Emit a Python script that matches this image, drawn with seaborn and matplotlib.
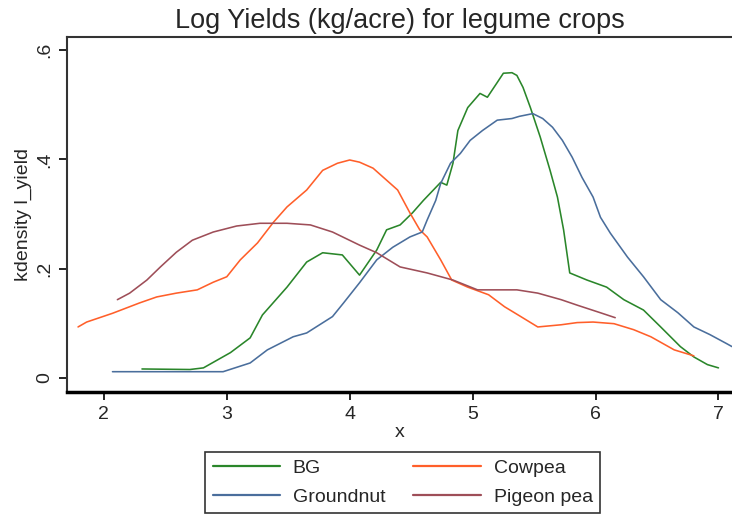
import matplotlib
matplotlib.use("Agg")
import matplotlib.pyplot as plt
import seaborn as sns
import pandas as pd
from matplotlib import font_manager
from matplotlib.lines import Line2D

# ---- data ----
bg_x = [2.31, 2.70, 2.81, 3.03, 3.19, 3.29, 3.49, 3.65, 3.78, 3.94, 4.08, 4.22, 4.30, 4.41, 4.51, 4.60,
        4.74, 4.79, 4.84, 4.88, 4.96, 5.06, 5.12, 5.20, 5.25, 5.32, 5.36, 5.41, 5.47, 5.55, 5.63, 5.69,
        5.74, 5.79, 5.93, 6.09, 6.23, 6.39, 6.53, 6.69, 6.80, 6.91, 7.00]
bg_y = [0.016, 0.015, 0.018, 0.046, 0.073, 0.115, 0.166, 0.212, 0.229, 0.225, 0.188, 0.234, 0.271, 0.280,
        0.302, 0.325, 0.358, 0.353, 0.393, 0.453, 0.495, 0.521, 0.514, 0.541, 0.558, 0.559, 0.554, 0.532,
        0.495, 0.441, 0.380, 0.331, 0.271, 0.192, 0.179, 0.166, 0.143, 0.124, 0.093, 0.057, 0.038, 0.024, 0.018]

gn_x = [2.07, 2.97, 3.19, 3.33, 3.54, 3.65, 3.86, 3.95, 4.08, 4.22, 4.35, 4.49, 4.59, 4.63, 4.70,
        4.74, 4.82, 4.90, 4.98, 5.08, 5.20, 5.32, 5.38, 5.49, 5.57, 5.65, 5.73, 5.81, 5.89, 5.98,
        6.04, 6.12, 6.26, 6.39, 6.53, 6.67, 6.80, 6.93, 7.07, 7.11]
gn_y = [0.011, 0.011, 0.027, 0.051, 0.075, 0.082, 0.112, 0.137, 0.174, 0.216, 0.239, 0.258, 0.267, 0.289,
        0.325, 0.356, 0.393, 0.411, 0.435, 0.453, 0.472, 0.475, 0.479, 0.484, 0.475, 0.459, 0.435,
        0.404, 0.367, 0.331, 0.294, 0.265, 0.221, 0.185, 0.143, 0.119, 0.093, 0.079, 0.062, 0.057]

cp_x = [1.79, 1.86, 2.07, 2.29, 2.43, 2.59, 2.76, 2.89, 3.00, 3.11, 3.25, 3.38, 3.49, 3.65, 3.78,
        3.90, 4.00, 4.08, 4.19, 4.30, 4.39, 4.49, 4.57, 4.63, 4.74, 4.83, 4.96, 5.13, 5.26, 5.37,
        5.53, 5.72, 5.85, 5.98, 6.15, 6.31, 6.45, 6.64, 6.80]
cp_y = [0.093, 0.102, 0.118, 0.137, 0.148, 0.155, 0.161, 0.175, 0.185, 0.216, 0.247, 0.285, 0.313,
        0.344, 0.380, 0.393, 0.399, 0.395, 0.384, 0.362, 0.344, 0.302, 0.271, 0.258, 0.216, 0.179,
        0.166, 0.152, 0.130, 0.115, 0.093, 0.097, 0.101, 0.102, 0.099, 0.088, 0.075, 0.051, 0.040]

pp_x = [2.11, 2.21, 2.35, 2.46, 2.59, 2.72, 2.89, 3.08, 3.27, 3.49, 3.68, 3.86, 4.08, 4.22, 4.41,
        4.63, 4.84, 5.04, 5.22, 5.36, 5.53, 5.72, 5.85, 6.04, 6.16]
pp_y = [0.143, 0.155, 0.179, 0.203, 0.230, 0.252, 0.267, 0.278, 0.283, 0.283, 0.280, 0.267, 0.243,
        0.229, 0.203, 0.192, 0.179, 0.161, 0.161, 0.161, 0.155, 0.143, 0.133, 0.119, 0.110]

crops = ["BG", "Cowpea", "Groundnut", "Pigeon pea"]
colors = ["#2A862A", "#FF5F2A", "#4A6E9C", "#9E4E58"]
x_ticks = [2, 3, 4, 5, 6, 7]
y_ticks = [0, 0.2, 0.4, 0.6]
y_ticklabels = ["0", ".2", ".4", ".6"]

frames = []
for name, xs, ys in [("BG", bg_x, bg_y), ("Cowpea", cp_x, cp_y),
                     ("Groundnut", gn_x, gn_y), ("Pigeon pea", pp_x, pp_y)]:
    frames.append(pd.DataFrame({"x": xs, "y": ys, "crop": name}))
df = pd.concat(frames, ignore_index=True)
pal = dict(zip(crops, colors))

sns.set_theme(style="white")
avail = {f.name for f in font_manager.fontManager.ttflist}
fam = [f for f in ["Liberation Sans Narrow", "Arial", "Liberation Sans", "DejaVu Sans"] if f in avail]
plt.rcParams["font.family"] = fam

fig = plt.figure(figsize=(7.32, 5.17), dpi=100)
ax = fig.add_axes([0.0915, 0.242, 0.9085, 0.686])

sns.lineplot(data=df, x="x", y="y", hue="crop", hue_order=crops,
             palette=pal, sort=False, estimator=None,
             linewidth=1.15, ax=ax, legend=False)

ax.set_xlim(1.70, 7.11)
ax.set_ylim(-0.026, 0.624)
ax.set_xticks(x_ticks)
ax.set_xticklabels([str(t) for t in x_ticks], fontsize=14)
ax.set_yticks(y_ticks)
ax.set_yticklabels(y_ticklabels, fontsize=14, rotation=90, va="center")
ax.tick_params(axis="both", direction="out", length=6, width=1.2, color="black",
               bottom=True, left=True, pad=4)
ax.set_xlabel("x", fontsize=14, labelpad=1)
ax.set_ylabel("kdensity l_yield", fontsize=14, labelpad=3)
ax.set_title("Log Yields (kg/acre) for legume crops", fontsize=19.5, pad=7)

for s in ["left", "top"]:
    ax.spines[s].set_color("#333333")
    ax.spines[s].set_linewidth(1.5)
ax.spines["bottom"].set_color("black")
ax.spines["bottom"].set_linewidth(2.5)
ax.spines["right"].set_visible(False)

# legend filled row-wise: BG, Cowpea / Groundnut, Pigeon pea
order = ["BG", "Groundnut", "Cowpea", "Pigeon pea"]
handles = [Line2D([0], [0], color=pal[c], lw=1.6) for c in order]
leg = fig.legend(handles, order, loc="upper center", bbox_to_anchor=(0.55, 0.126),
                 ncol=2, fontsize=14, frameon=True, fancybox=False, edgecolor="black",
                 handlelength=3.45, columnspacing=1.45, handletextpad=0.67,
                 borderpad=0.4, borderaxespad=0, labelspacing=0.55)
leg.get_frame().set_linewidth(1.2)

fig.savefig("out.png", dpi=100)
